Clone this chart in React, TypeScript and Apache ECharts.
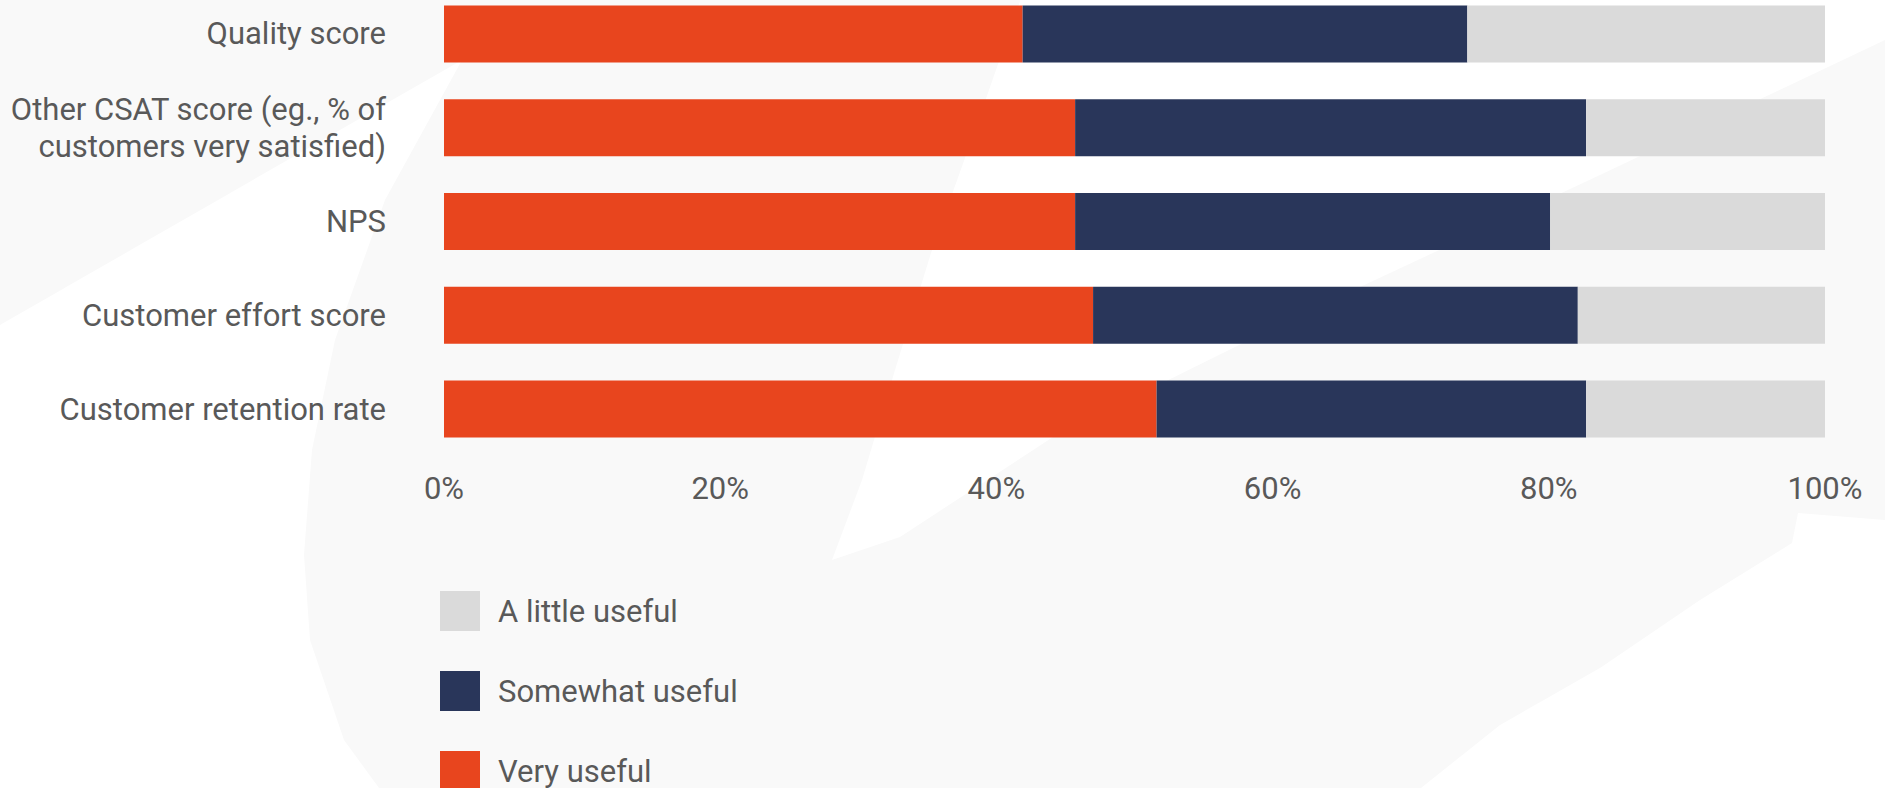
import React, { useEffect, useRef } from "react";
import * as echarts from "echarts";

const categories = [
  "Quality score",
  "Other CSAT score (eg., % of\ncustomers very satisfied)",
  "NPS",
  "Customer effort score",
  "Customer retention rate",
];
const veryUseful = [41.9, 45.7, 45.7, 47.0, 51.6];
const somewhatUseful = [32.2, 37.0, 34.4, 35.1, 31.1];
const littleUseful = [25.9, 17.3, 19.9, 17.9, 17.3];
const xTicks = [0, 20, 40, 60, 80, 100];
const legendNames = ["A little useful", "Somewhat useful", "Very useful"];

const RED = "#E8451E";
const NAVY = "#29365A";
const GREY = "#DADADA";
const TEXT = "#595959";
const FONT = "Roboto";
const OFF = 13; // container is shifted up by this many px

const shift = (pts: number[][]) => pts.map(([x, y]) => [x, y + OFF]);

export default function App() {
  const ref = useRef<HTMLDivElement>(null);
  useEffect(() => {
    if (!ref.current) return;
    const chart = echarts.init(ref.current, undefined, { renderer: "svg" });
    const white = { fill: "#ffffff" };
    chart.setOption({
      animation: false,
      backgroundColor: "#F9F9F9",
      textStyle: { fontFamily: FONT },
      graphic: [
        {
          type: "polygon",
          z: 0,
          silent: true,
          shape: {
            points: shift([
              [462, 60], [0, 325], [0, 788], [379, 788], [344, 740], [310, 640],
              [304, 555], [312, 450], [335, 340], [385, 200], [440, 100],
            ]),
          },
          style: white,
        },
        {
          type: "polygon",
          z: 0,
          silent: true,
          shape: {
            points: shift([
              [1025, -13], [975, 130], [931, 253], [895, 370], [862, 480], [832, 560],
              [900, 537], [1053, 437], [1300, 315], [1600, 175], [1885, 40], [1885, -13],
            ]),
          },
          style: white,
        },
        {
          type: "polygon",
          z: 0,
          silent: true,
          shape: {
            points: shift([
              [1885, 520], [1798, 513], [1792, 543], [1700, 600], [1600, 668],
              [1500, 725], [1421, 788], [1885, 788],
            ]),
          },
          style: white,
        },
      ],
      legend: {
        orient: "vertical",
        left: 440,
        top: 591 + OFF,
        height: 260,
        padding: 0,
        itemWidth: 40,
        itemHeight: 40,
        itemGap: 40,
        icon: "rect",
        data: legendNames,
        textStyle: { fontSize: 31, color: TEXT, fontFamily: FONT, padding: [0, 0, 8, 13] },
      },
      grid: { left: 444, right: 60, top: 0, bottom: 801 - 469, containLabel: false },
      xAxis: {
        type: "value",
        min: xTicks[0],
        max: xTicks[xTicks.length - 1],
        interval: xTicks[1] - xTicks[0],
        axisLine: { show: false },
        axisTick: { show: false },
        splitLine: { show: false },
        axisLabel: {
          formatter: "{value}%",
          fontSize: 31,
          color: TEXT,
          fontFamily: FONT,
          margin: 17,
        },
      },
      yAxis: {
        type: "category",
        inverse: true,
        data: categories,
        axisLine: { show: false },
        axisTick: { show: false },
        axisLabel: {
          fontSize: 31,
          lineHeight: 37,
          color: TEXT,
          fontFamily: FONT,
          margin: 58,
          align: "right",
          padding: [0, 0, 7, 0],
        },
      },
      series: [
        { name: "Very useful", type: "bar", stack: "total", barWidth: 57, data: veryUseful, itemStyle: { color: RED } },
        { name: "Somewhat useful", type: "bar", stack: "total", barWidth: 57, data: somewhatUseful, itemStyle: { color: NAVY } },
        { name: "A little useful", type: "bar", stack: "total", barWidth: 57, data: littleUseful, itemStyle: { color: GREY } },
      ],
    });
    return () => chart.dispose();
  }, []);
  return (
    <div
      ref={ref}
      style={{ position: "fixed", left: 0, top: -OFF, width: 1885, height: 788 + OFF }}
    />
  );
}
